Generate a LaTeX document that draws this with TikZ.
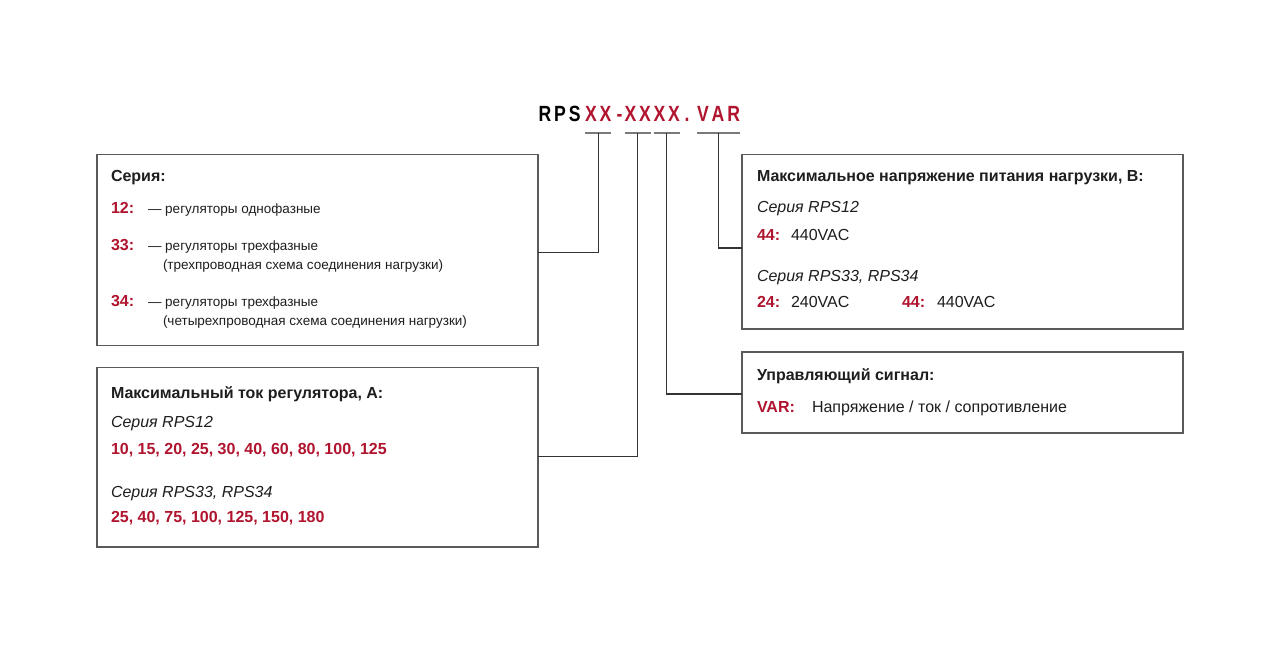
\documentclass[tikz,border=0pt]{standalone}
\usepackage{fontspec}
\setmainfont{Liberation Sans}
\newfontfamily\titlefont[FakeStretch=0.8]{Liberation Sans}
\definecolor{rd}{HTML}{B0142E}
\definecolor{tx}{HTML}{1E1E1E}
\definecolor{boxgray}{HTML}{5A5A5A}
\definecolor{lngray}{HTML}{333333}
\definecolor{ulgray}{HTML}{7A7A7A}
\tikzset{
 box/.style={draw=boxgray, line width=1.3pt, inner sep=0pt, outer sep=0pt},
 conn/.style={draw=lngray, line width=1.2pt},
 uline/.style={draw=ulgray, line width=1.8pt},
 lbl/.style={anchor=base west, inner sep=0pt, outer sep=0pt, text=tx},
 hd/.style={lbl, font=\fontsize{16}{19}\selectfont\bfseries},
 num/.style={lbl, text=rd, font=\fontsize{16}{19}\selectfont\bfseries},
 itl/.style={lbl, font=\fontsize{16}{19}\selectfont\itshape},
 rg/.style={lbl, font=\fontsize{16}{19}\selectfont},
 sm/.style={lbl, font=\fontsize{13.5}{16}\selectfont},
 ttl/.style={anchor=base west, inner sep=0pt, outer sep=0pt, font=\titlefont\fontsize{22}{26}\selectfont\bfseries},
}
\begin{document}
\begin{tikzpicture}[x=1pt,y=-1pt]
\useasboundingbox[fill=white] (0,0) rectangle (1280,652);
% title
\node[ttl, text=black] (rps) at (538.5,122) {R\kern3ptP\kern3ptS};
\node[ttl, text=rd] (xx1) at (585,122) {X\kern3ptX};
\node[ttl, text=rd] (dash) at (616.5,122) {-};
\node[ttl, text=rd] (xx2) at (624.5,122) {X\kern3ptX};
\node[ttl, text=rd] (xx3) at (653.5,122) {X\kern3ptX};
\node[ttl, text=rd] (dot) at (684.5,122) {.};
\node[ttl, text=rd] (var) at (697,122) {V\kern3ptA\kern3ptR};
\foreach \g in {xx1,xx2,xx3,var}{
  \draw[uline] ([yshift=-11pt]\g.south west) -- ([yshift=-11pt]\g.south east);
}
% boxes
\node[box, minimum width=441pt, minimum height=191pt] (b1) at (317.5,250) {};
\node[box, minimum width=441pt, minimum height=179.5pt] (b2) at (317.5,457.3) {};
\node[box, minimum width=441pt, minimum height=174.5pt] (b3) at (962.5,241.8) {};
\node[box, minimum width=441pt, minimum height=81pt] (b4) at (962.5,392.5) {};
% connectors
\draw[conn] ([yshift=-11pt]xx1.south) |- (b1.east |- 0,252.7);
\draw[conn] ([yshift=-11pt]xx2.south) |- (b2.east |- 0,456.7);
\draw[conn] ([yshift=-11pt]xx3.south) |- (b4.west |- 0,394);
\draw[conn] ([yshift=-11pt]var.south) |- (b3.west |- 0,248);
% box 1
\node[hd] (h1) at (111,182) {Серия:};
\node[num] (n12) at (111,214) {12:};
\node[sm] (d12) at (148,214) {— регуляторы однофазные};
\node[num] (n33) at (111,251) {33:};
\node[sm] (d33) at (148,251) {— регуляторы трехфазные};
\node[sm] (e33) at (163,270) {(трехпроводная схема соединения нагрузки)};
\node[num] (n34) at (111,307) {34:};
\node[sm] (d34) at (148,307) {— регуляторы трехфазные};
\node[sm] (e34) at (163,326) {(четырехпроводная схема соединения нагрузки)};
% box 2
\node[hd] (h2) at (111,398) {Максимальный ток регулятора, А:};
\node[itl] (s21) at (111,427) {Серия RPS12};
\node[num] (v21) at (111,454) {10, 15, 20, 25, 30, 40, 60, 80, 100, 125};
\node[itl] (s22) at (111,497) {Серия RPS33, RPS34};
\node[num] (v22) at (111,522) {25, 40, 75, 100, 125, 150, 180};
% box 3
\node[hd] (h3) at (757,182) {Максимальное напряжение питания нагрузки, В:};
\node[itl] (s31) at (757,213) {Серия RPS12};
\node[num] (n31) at (757,241) {44:};
\node[rg] (v31) at (791,241) {440VAC};
\node[itl] (s32) at (757,282) {Серия RPS33, RPS34};
\node[num] (n32) at (757,308) {24:};
\node[rg] (v32) at (791,308) {240VAC};
\node[num] (n33b) at (902,308) {44:};
\node[rg] (v33) at (937,308) {440VAC};
% box 4
\node[hd] (h4) at (757,380) {Управляющий сигнал:};
\node[num] (n41) at (757,412) {VAR:};
\node[rg] (v41) at (812,412) {Напряжение / ток / сопротивление};
\end{tikzpicture}
\end{document}
